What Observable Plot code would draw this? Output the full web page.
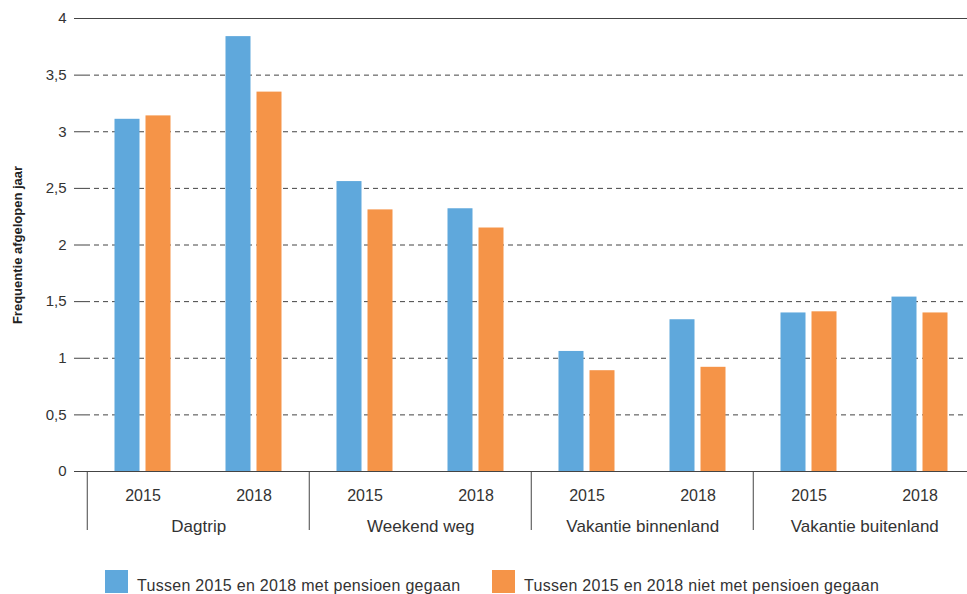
<!DOCTYPE html>
<html>
<head>
<meta charset="utf-8">
<script src="https://cdn.jsdelivr.net/npm/d3@7"></script>
<script src="https://cdn.jsdelivr.net/npm/@observablehq/plot@0.6"></script>
<style>
  html, body { margin: 0; padding: 0; background: #fff; overflow: hidden; }
  body { width: 967px; height: 594px; font-family: "Liberation Sans", Arial, sans-serif; color: #333; }
  #legend { position: relative; height: 34px; margin-top: 10px; font-size: 16px; letter-spacing: 0.28px; }
  .item { position: absolute; top: 0; display: flex; align-items: flex-start; }
  .sw { width: 23px; height: 23px; margin-right: 9px; }
  .lt { line-height: 1; margin-top: 8px; white-space: nowrap; }
</style>
</head>
<body>
<div id="chart"></div>
<div id="legend"></div>
<script>
const categories = ["Dagtrip", "Weekend weg", "Vakantie binnenland", "Vakantie buitenland"];
const years = ["2015", "2018"];
const seriesNames = ["Tussen 2015 en 2018 met pensioen gegaan", "Tussen 2015 en 2018 niet met pensioen gegaan"];
const seriesColors = ["#5fa8dc", "#f59448"];
// values in order: category x year
const metPensioen = [3.11, 3.84, 2.56, 2.32, 1.06, 1.34, 1.40, 1.54];
const nietMetPensioen = [3.14, 3.35, 2.31, 2.15, 0.89, 0.92, 1.41, 1.40];
const yTicks = [0, 0.5, 1, 1.5, 2, 2.5, 3, 3.5, 4];

const keys = [];
categories.forEach(c => years.forEach(y => keys.push(c + "|" + y)));
const rows = [];
keys.forEach((k, i) => {
  rows.push({key: k, year: k.split("|")[1], series: seriesNames[0], value: metPensioen[i]});
  rows.push({key: k, year: k.split("|")[1], series: seriesNames[1], value: nietMetPensioen[i]});
});
const yearRows = keys.map(k => ({key: k, year: k.split("|")[1]}));

const W = 967, H = 560, ML = 85, MT = 18, MB = 89;
const groupW = 223;            // width of one category group (plot extends past the right edge)
const band = groupW / 2;

const fontFam = '"Liberation Sans", Arial, sans-serif';
const fmt = d => String(d).replace(".", ",");

const plot = Plot.plot({
  width: W, height: H,
  marginLeft: ML, marginRight: 0, marginTop: MT, marginBottom: MB,
  style: {fontFamily: fontFam, color: "#333", background: "#fff", overflow: "hidden"},
  x: {type: "band", domain: keys, range: [ML, ML + groupW * categories.length], padding: 0, axis: null},
  y: {domain: [0, 4], axis: null},
  marks: [
    Plot.ruleY(yTicks.filter(d => d > 0 && d < 4), {stroke: "#444", strokeWidth: 1, strokeDasharray: "5,4"}),
    Plot.barY(rows.filter(d => d.series === seriesNames[0]), {x: "key", y: "value", fill: seriesColors[0], insetLeft: 27.5, insetRight: band - 53}),
    Plot.barY(rows.filter(d => d.series === seriesNames[1]), {x: "key", y: "value", fill: seriesColors[1], insetLeft: band - 53, insetRight: 27.5}),
    Plot.ruleY([0, 4], {stroke: "#444", strokeWidth: 1}),
    Plot.ruleX([0], {frameAnchor: "left", stroke: "#444", strokeWidth: 1}),
    Plot.axisY({ticks: yTicks, tickSize: 11, tickPadding: 8, tickFormat: fmt, fontSize: 15, stroke: "#444", fill: "#333", label: null}),
    // group separators below axis
    Plot.ruleX(categories, {x: d => d + "|2015", dx: -band / 2, insetTop: 471 - MT, insetBottom: -59, stroke: "#444", strokeWidth: 1}),
    // year labels
    Plot.text(yearRows, {x: "key", text: "year", frameAnchor: "bottom", lineAnchor: "middle", dy: 24, fontSize: 16, fill: "#333"}),
    // category labels
    Plot.text(categories, {x: d => d + "|2015", text: d => d, dx: band / 2, frameAnchor: "bottom", lineAnchor: "middle", dy: 55, fontSize: 17, fill: "#333"}),
    // y label
    Plot.text(["Frequentie afgelopen jaar"], {frameAnchor: "left", textAnchor: "middle", lineAnchor: "middle", dx: -68, rotate: -90, text: d => d, fontSize: 13, fontWeight: "bold", fill: "#222"})
  ]
});
document.getElementById("chart").appendChild(plot);

const legend = document.getElementById("legend");
const lefts = [105, 492];
seriesNames.forEach((s, i) => {
  const it = document.createElement("div");
  it.className = "item";
  it.style.left = lefts[i] + "px";
  const sw = document.createElement("div");
  sw.className = "sw";
  sw.style.background = seriesColors[i];
  const t = document.createElement("div");
  t.className = "lt";
  t.textContent = s;
  it.appendChild(sw); it.appendChild(t);
  legend.appendChild(it);
});
</script>
</body>
</html>
